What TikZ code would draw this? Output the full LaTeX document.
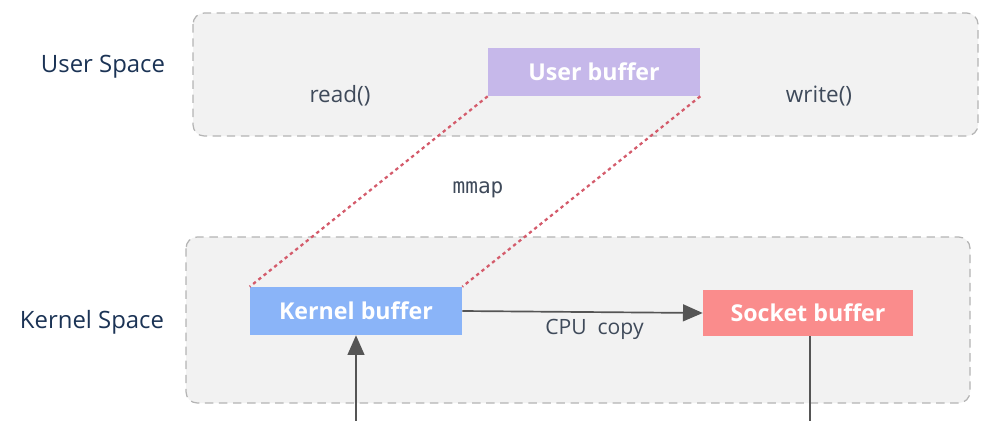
\documentclass[tikz,border=0pt]{standalone}
\usepackage{fontspec}
\setmainfont{Open Sans}
\setmonofont{DejaVu Sans Mono}
\usetikzlibrary{arrows.meta,positioning}
\definecolor{spacefill}{HTML}{F2F2F2}
\definecolor{spaceline}{HTML}{B4B4B4}
\definecolor{userfill}{HTML}{C6B8EA}
\definecolor{kernelfill}{HTML}{8AB4F8}
\definecolor{socketfill}{HTML}{FA8C8C}
\definecolor{mapline}{HTML}{D45B6B}
\definecolor{flowline}{HTML}{555555}
\definecolor{spacetext}{HTML}{1B3355}
\definecolor{calltext}{HTML}{3F4A5A}

\begin{document}
\begin{tikzpicture}[
  x=0.025cm, y=-0.025cm,
  space/.style={draw=spaceline, dashed, dash pattern=on 6pt off 4pt, line width=0.9pt, rounded corners=8pt, fill=spacefill},
  buf/.style={minimum width=5.3cm, minimum height=1.2cm, text=white, font=\fontsize{16.5}{18}\selectfont\bfseries},
  spacelabel/.style={text=spacetext, font=\fontsize{17}{19}\selectfont},
  call/.style={text=calltext, font=\fontsize{16}{18}\selectfont},
  mapping/.style={draw=mapline, line width=1.6pt, dash pattern=on 2.4pt off 2.4pt},
  flow/.style={draw=flowline, line width=1.2pt, -{Triangle[length=14pt, width=12pt]}}
]
\useasboundingbox (0,0) rectangle (989,421);
% the two address spaces
\draw[space] (193,13) rectangle (978,136);
\draw[space] (186,237) rectangle (970,403);
\node[spacelabel] (userlbl) at (103,67) {User Space};
\node[spacelabel] (kernellbl) at (92,322) {Kernel Space};
% buffers
\node[buf, fill=userfill] (userbuf) at (594,72) {User buffer};
\node[buf, fill=kernelfill] (kernelbuf) at (356,311) {Kernel buffer};
\node[buf, fill=socketfill, minimum width=5.25cm, minimum height=1.15cm] (socketbuf) at (808,313) {Socket buffer};
\node[call] (readcall) at (340,96) {read()};
\node[call] (writecall) at (819,96) {write()};
\node[call, font=\ttfamily\fontsize{15}{17}\selectfont] (mmaplbl) at (478,190) {mmap};
% mmap shares the pages
\draw[mapping] (userbuf.south west) -- (kernelbuf.north west);
\draw[mapping] (userbuf.south east) -- (kernelbuf.north east);
% copy and outside paths
\draw[flow] (kernelbuf.east) -- node[call, below=1pt, xshift=0.3cm, font=\fontsize{15}{17}\selectfont] (cpulbl) {CPU\ \ copy} (socketbuf.west);
\coordinate (diskin) at (356,421);
\coordinate (nicout) at (810,421);
\draw[flow] (diskin) -- (kernelbuf.south);
\draw[draw=flowline, line width=1.2pt] (socketbuf.south -| nicout) -- (nicout);
\end{tikzpicture}
\end{document}
